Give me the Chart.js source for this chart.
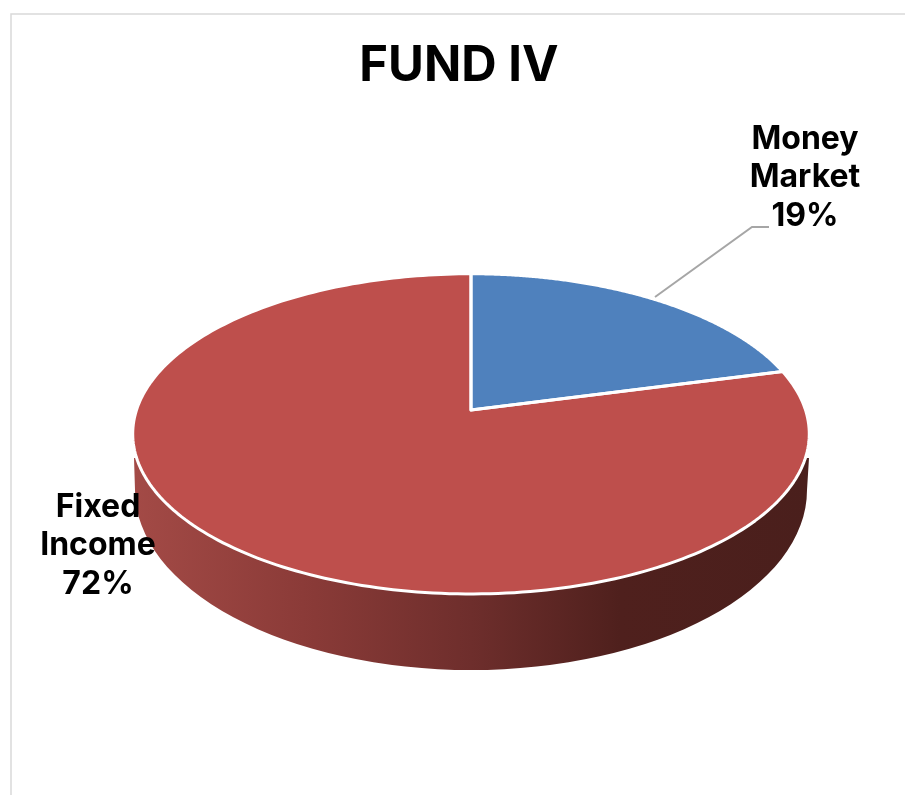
<!DOCTYPE html>
<html>
<head>
<meta charset="utf-8">
<title>FUND IV</title>
<script src="https://cdn.jsdelivr.net/npm/chart.js@4"></script>
<style>
html, body { margin: 0; padding: 0; background: #fff; }
canvas { display: block; }
</style>
</head>
<body>
<canvas id="fundChart" width="905" height="795"></canvas>
<script>
const titleText = 'FUND IV';
const categories = ['Money Market', 'Fixed Income'];
const shareValues = [19, 72];
const sliceColors = ['#4F81BD', '#BE4F4C'];

// Perspective of the tilted disc: apex sits above the middle of the ellipse
const TILT = 0.149;
const SQUASH = 0.468;

function project(el, theta) {
    const u = Math.cos(theta);
    const v = -Math.sin(theta);
    const w = 1 + TILT * v;
    return {
        x: el.x + el.outerRadius * u / w,
        y: el.y - el.outerRadius * SQUASH * v / w
    };
}

function traceSlice(ctx, el) {
    ctx.beginPath();
    ctx.moveTo(el.x, el.y);
    const steps = 240;
    for (let i = 0; i <= steps; i++) {
        const p = project(el, el.startAngle + (el.endAngle - el.startAngle) * i / steps);
        ctx.lineTo(p.x, p.y);
    }
    ctx.closePath();
}

function drawWall(ctx, el) {
    const left = el.x - 337;
    const right = el.x + 338;
    const gradient = ctx.createLinearGradient(left, 0, right, 0);
    gradient.addColorStop(0, '#a34a46');
    gradient.addColorStop(0.25, '#8b3b38');
    gradient.addColorStop(0.5, '#6e2e2c');
    gradient.addColorStop(0.72, '#4f201d');
    gradient.addColorStop(1, '#4a1f1c');
    ctx.fillStyle = gradient;
    ctx.beginPath();
    ctx.moveTo(left, el.y + 48);
    ctx.lineTo(left + 1, el.y + 80);
    ctx.ellipse(el.x, el.y + 80, 336, 180, 0, Math.PI, 0, true);
    ctx.lineTo(right, el.y + 48);
    ctx.closePath();
    ctx.fill();
}

const discPlugin = {
    id: 'disc',
    beforeDraw(chart) {
        // thin frame of the original slide
        const ctx = chart.ctx;
        ctx.save();
        ctx.fillStyle = '#fff';
        ctx.fillRect(0, 0, chart.width, chart.height);
        ctx.strokeStyle = '#d9d9d9';
        ctx.lineWidth = 1.5;
        ctx.beginPath();
        ctx.moveTo(11, chart.height);
        ctx.lineTo(11, 14);
        ctx.lineTo(chart.width, 14);
        ctx.stroke();
        ctx.restore();
    },
    beforeDatasetDraw(chart, args) {
        const ctx = chart.ctx;
        const arcs = chart.getDatasetMeta(args.index).data;
        ctx.save();
        drawWall(ctx, arcs[0]);
        arcs.forEach(el => {
            traceSlice(ctx, el);
            ctx.fillStyle = el.options.backgroundColor;
            ctx.fill();
        });
        arcs.forEach(el => {
            traceSlice(ctx, el);
            ctx.strokeStyle = el.options.borderColor;
            ctx.lineWidth = el.options.borderWidth;
            ctx.lineJoin = 'round';
            ctx.stroke();
        });
        ctx.restore();
        return false;
    },
    afterDatasetsDraw(chart) {
        const ctx = chart.ctx;
        ctx.save();

        // leader line up to the Money Market label
        ctx.strokeStyle = '#a6a6a6';
        ctx.lineWidth = 2;
        ctx.beginPath();
        ctx.moveTo(655, 297);
        ctx.lineTo(752, 227);
        ctx.lineTo(769, 227);
        ctx.stroke();

        ctx.fillStyle = '#000';
        ctx.textAlign = 'center';
        ctx.textBaseline = 'middle';

        ctx.font = '700 49px Inter';
        ctx.fillText(titleText, 459, 66);

        ctx.font = '700 32px Inter';
        const labelSpots = [{ x: 805, y: 139 }, { x: 98, y: 507 }];
        categories.forEach((name, i) => {
            const lines = name.split(' ').concat(shareValues[i] + '%');
            lines.forEach((line, n) => {
                ctx.fillText(line, labelSpots[i].x, labelSpots[i].y + n * 38.5);
            });
        });
        ctx.restore();
    }
};

new Chart(document.getElementById('fundChart'), {
    type: 'pie',
    data: {
        labels: categories,
        datasets: [{
            data: shareValues,
            backgroundColor: sliceColors,
            borderColor: '#ffffff',
            borderWidth: 3
        }]
    },
    options: {
        responsive: false,
        animation: false,
        layout: { padding: { left: 135, right: 98, top: 74, bottom: 49 } },
        plugins: {
            legend: { display: false },
            tooltip: { enabled: false }
        }
    },
    plugins: [discPlugin]
});
</script>
</body>
</html>
